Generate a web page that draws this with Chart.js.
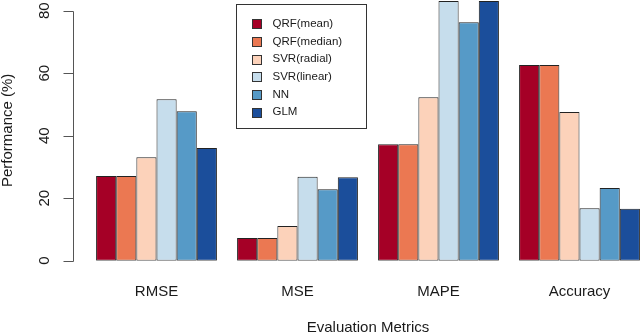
<!DOCTYPE html>
<html>
<head>
<meta charset="utf-8">
<script src="https://cdn.jsdelivr.net/npm/chart.js@4/dist/chart.umd.min.js"></script>
<style>
  html, body { margin: 0; padding: 0; background: #fff; overflow: hidden; }
  #wrap { width: 640px; height: 333px; overflow: hidden; position: relative; }
  canvas { display: block; }
</style>
</head>
<body>
<div id="wrap"><canvas id="c" width="650" height="340"></canvas></div>
<script>
const categories = ['RMSE', 'MSE', 'MAPE', 'Accuracy'];
const seriesNames = ['QRF(mean)', 'QRF(median)', 'SVR(radial)', 'SVR(linear)', 'NN', 'GLM'];
const qrfMean   = [27.1, 7.3, 37.3, 62.6];
const qrfMedian = [27.1, 7.3, 37.3, 62.6];
const svrRadial = [33.1, 11.1, 52.3, 47.6];
const svrLinear = [51.7, 26.9, 83.1, 16.8];
const nn        = [47.8, 22.9, 76.3, 23.3];
const glm       = [36.1, 26.7, 83.1, 16.6];
const yTicks    = [0, 20, 40, 60, 80];

const seriesValues = [qrfMean, qrfMedian, svrRadial, svrLinear, nn, glm];
const colors = ['#A50026', '#EB7852', '#FCD2BA', '#C6DDEC', '#569AC7', '#1B4E9B'];
const FONT = '"Liberation Sans", Arial, Helvetica, sans-serif';
const TEXT = '#1a1a1a';

const rAxisPlugin = {
  id: 'rAxis',
  afterDraw(chart) {
    const y = chart.scales.y;
    const ctx = chart.ctx;
    const x0 = 73.5;
    ctx.save();
    ctx.strokeStyle = '#555';
    ctx.lineWidth = 1;
    ctx.beginPath();
    const p0 = Math.round(y.getPixelForValue(yTicks[0])) + 0.5;
    const p1 = Math.round(y.getPixelForValue(yTicks[yTicks.length - 1])) + 0.5;
    ctx.moveTo(x0, p0);
    ctx.lineTo(x0, p1);
    yTicks.forEach(v => {
      const p = Math.round(y.getPixelForValue(v)) + 0.5;
      ctx.moveTo(x0 - 10, p);
      ctx.lineTo(x0, p);
    });
    ctx.stroke();
    ctx.restore();
  }
};

const boxLegendPlugin = {
  id: 'boxLegend',
  afterDraw(chart) {
    const ctx = chart.ctx;
    ctx.save();
    ctx.strokeStyle = '#333';
    ctx.lineWidth = 1;
    ctx.strokeRect(236.5, 4.5, 130, 124);
    ctx.font = '11.5px ' + FONT;
    ctx.textBaseline = 'middle';
    ctx.textAlign = 'left';
    chart.data.datasets.forEach((ds, i) => {
      const cy = 23.7 + 17.7 * i;
      const top = Math.round(cy - 4.5) + 0.5;
      ctx.fillStyle = ds.backgroundColor;
      ctx.fillRect(252.5, top, 9, 9);
      ctx.strokeStyle = '#333';
      ctx.strokeRect(252.5, top, 9, 9);
      ctx.fillStyle = TEXT;
      ctx.fillText(ds.label, 272.5, cy);
    });
    ctx.restore();
  }
};

new Chart(document.getElementById('c'), {
  type: 'bar',
  data: {
    labels: categories,
    datasets: seriesNames.map((name, i) => ({
      label: name,
      data: seriesValues[i],
      backgroundColor: colors[i],
      borderColor: '#222',
      borderWidth: 1,
      borderSkipped: false,
      categoryPercentage: 6 / 7,
      barPercentage: 1
    }))
  },
  options: {
    responsive: false,
    devicePixelRatio: 1,
    animation: false,
    layout: { padding: 0 },
    plugins: {
      legend: { display: false },
      tooltip: { enabled: false }
    },
    scales: {
      x: {
        grid: { display: false, drawTicks: false },
        border: { display: false },
        ticks: { color: TEXT, font: { family: FONT, size: 15 }, padding: 22, maxRotation: 0 },
        title: {
          display: true, text: 'Evaluation Metrics', color: TEXT,
          font: { family: FONT, size: 15 }, padding: { top: 0, bottom: 3 }
        },
        afterFit(scale) {
          scale.height = 340 - 260.7;
          scale.paddingLeft = 0; scale.paddingRight = 0;
        }
      },
      y: {
        min: 0,
        max: 83.42,
        grid: { display: false, drawTicks: false },
        border: { display: false },
        afterBuildTicks(scale) { scale.ticks = yTicks.map(v => ({ value: v })); },
        ticks: {
          color: TEXT, font: { family: FONT, size: 15 },
          minRotation: 90, maxRotation: 90, crossAlign: 'center', padding: 32.6,
          includeBounds: false
        },
        title: {
          display: true, text: 'Performance (%)', color: TEXT,
          font: { family: FONT, size: 15, lineHeight: 1.1 }, padding: { top: 0, bottom: 0 }
        },
        afterFit(scale) {
          scale.width = 86;
          scale.paddingTop = 0; scale.paddingBottom = 0;
        }
      }
    }
  },
  plugins: [rAxisPlugin, boxLegendPlugin]
});
</script>
</body>
</html>
